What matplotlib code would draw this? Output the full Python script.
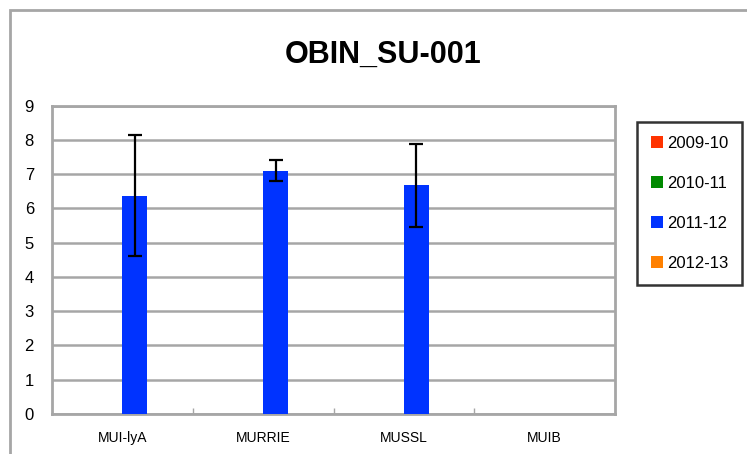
import numpy as np
import matplotlib
matplotlib.use("Agg")
import matplotlib.pyplot as plt
from matplotlib.patches import Rectangle, Patch

# ---- data ----
categories = ["MUI-lyA", "MURRIE", "MUSSL", "MUIB"]
seasons = ["2009-10", "2010-11", "2011-12", "2012-13"]
colors = ["#FF3300", "#008A00", "#0033FF", "#FF8000"]
values = {
    "2009-10": [np.nan, np.nan, np.nan, np.nan],
    "2010-11": [np.nan, np.nan, np.nan, np.nan],
    "2011-12": [6.37, 7.10, 6.67, np.nan],
    "2012-13": [np.nan, np.nan, np.nan, np.nan],
}
errors = {
    "2011-12": [1.76, 0.30, 1.22, np.nan],
}
yticks = list(range(0, 10))
title = "OBIN_SU-001"

plt.rcParams["font.family"] = ["Liberation Sans", "DejaVu Sans"]

W, H = 747, 454
fig = plt.figure(figsize=(W / 100, H / 100), dpi=100)
fig.patch.set_facecolor("white")

# outer chart border (cut off at right/bottom)
fig.patches.append(Rectangle((10 / W, -0.1), 2, 1 - 10 / H + 0.1,
                             transform=fig.transFigure, fill=False,
                             edgecolor="#A6A6A6", linewidth=2))

ax = fig.add_axes([52 / W, 40 / H, 563 / W, 308.5 / H])

x = np.arange(len(categories))
bw = 0.178
for i, s in enumerate(seasons):
    xs = x + (i - 2) * bw
    ax.bar(xs, values[s], width=bw, align="edge", color=colors[i], label=s, zorder=3)
    if s in errors:
        ax.errorbar(xs + bw / 2, values[s], yerr=errors[s], fmt="none",
                    ecolor="black", elinewidth=1.6, capsize=4.8, capthick=1.6, zorder=4)

ax.set_xlim(-0.5, len(categories) - 0.5)
ax.set_ylim(0, 9)
ax.set_yticks(yticks)
ax.set_yticklabels([str(t) for t in yticks], fontsize=12)
ax.set_xticks(x)
ax.set_xticklabels(categories, fontsize=10)
ax.tick_params(axis="y", length=0, pad=13)
ax.tick_params(axis="x", length=0, pad=12)
# small category separator ticks
ax.set_xticks(x[:-1] + 0.5, minor=True)
ax.tick_params(axis="x", which="minor", direction="in", length=4, color="#A6A6A6", width=1)

ax.grid(axis="y", color="#A6A6A6", linewidth=1.8, zorder=0)
for sp in ax.spines.values():
    sp.set_color("#A6A6A6")
    sp.set_linewidth(2)

fig.text(383 / W, 1 - 55 / H, title, ha="center", va="center",
         fontsize=22, fontweight="bold")

handles = [Patch(facecolor=c, edgecolor="none") for c in colors]
leg = fig.legend(handles, seasons, loc="upper left",
                 bbox_to_anchor=(637 / W, 1 - 122 / H),
                 fontsize=12, frameon=True, fancybox=False,
                 handlelength=0.7, handleheight=0.7, handletextpad=0.25,
                 labelspacing=1.5, borderpad=0.85, borderaxespad=0)
leg.get_frame().set_edgecolor("black")
leg.get_frame().set_linewidth(1.8)

fig.savefig("out.png", dpi=100)
